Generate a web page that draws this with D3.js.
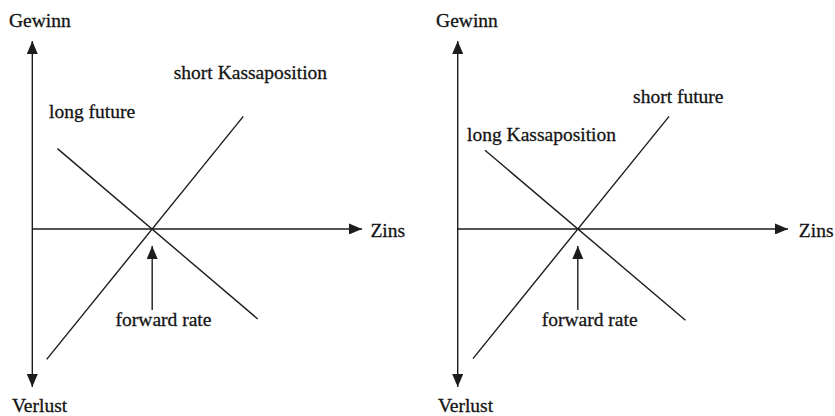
<!DOCTYPE html>
<html><head><meta charset="utf-8">
<script src="https://cdn.jsdelivr.net/npm/d3@7"></script>
<style>
html,body{margin:0;padding:0;background:#fff;}
text{font-family:"Liberation Serif","Times New Roman",serif;font-size:19.5px;fill:#141414;stroke:#141414;stroke-width:0.3px;}
</style></head>
<body><svg id="c" width="835" height="416"></svg>
<script>
// ---- data (abstract units: Zins on x, Gewinn/Verlust on y) ----
const axisXRange = [0, 27.5];          // Zins axis extent
const axisYRange = [-13.17, 15.67];    // Verlust .. Gewinn
const forwardRate = 10;                // crossing point on the Zins axis
const forwardArrowY = [-6.75, -1.42];  // foot and tip of the forward-rate arrow

const panelNames = ["left", "right"];
const risingX  = [[1.2, 17.6], [1.27, 17.6]];
const risingY  = [[-10.87, 9.39], [-10.8, 9.39]];
const fallingX = [[2.1, 18.8], [2.27, 18.96]];
const fallingY = [[6.7, -7.5], [6.57, -7.6]];

const axisLabels = ["Gewinn", "Verlust", "Zins"];
const axisLabelX = [[-1.94, -1.7, 28.2], [-1.8, -1.65, 28.4]];
const axisLabelY = [[16.8, -15.25, -0.63], [16.8, -15.25, -0.63]];

const lineLabels  = [["short Kassaposition", "long future", "forward rate"],
                     ["short future", "long Kassaposition", "forward rate"]];
const lineLabelX  = [[11.8, 1.4, 6.95], [14.6, 0.78, 7.0]];
const lineLabelY  = [[12.5, 9.25, -8.1], [10.5, 7.33, -8.1]];

// ---- drawing ----
const svg = d3.select("#c");
const ink = "#1c1c1c";
const defs = svg.append("defs");
defs.append("marker").attr("id", "ah")
  .attr("markerUnits", "userSpaceOnUse")
  .attr("viewBox", "0 0 13 11").attr("refX", 13).attr("refY", 5.5)
  .attr("markerWidth", 13).attr("markerHeight", 11).attr("orient", "auto-start-reverse")
  .append("path").attr("d", "M0,0 L13,5.5 L0,11 Z").attr("fill", ink);

const panelRanges = [[32.3, 362], [457.7, 788]];
const y = d3.scaleLinear().domain(axisYRange).range([387, 41]);

panelNames.forEach((name, i) => {
  const x = d3.scaleLinear().domain(axisXRange).range(panelRanges[i]);
  const g = svg.append("g").attr("class", "panel-" + name);
  const line = d3.line().x(d => x(d[0])).y(d => y(d[1]));

  // y axis (both ends arrowed)
  g.append("path").attr("d", line([[0, axisYRange[0]], [0, axisYRange[1]]]))
    .attr("stroke", ink).attr("stroke-width", 1.4).attr("fill", "none")
    .attr("marker-start", "url(#ah)").attr("marker-end", "url(#ah)");
  // x axis
  g.append("path").attr("d", line([[0, 0], [axisXRange[1], 0]]))
    .attr("stroke", ink).attr("stroke-width", 1.4).attr("fill", "none")
    .attr("marker-end", "url(#ah)");

  // payoff lines
  const segs = [d3.zip(risingX[i], risingY[i]), d3.zip(fallingX[i], fallingY[i])];
  g.selectAll("path.pay").data(segs).join("path").attr("class", "pay")
    .attr("d", line).attr("stroke", ink).attr("stroke-width", 1.4).attr("fill", "none");

  // forward rate arrow
  g.append("path").attr("d", line([[forwardRate, forwardArrowY[0]], [forwardRate, forwardArrowY[1]]]))
    .attr("stroke", ink).attr("stroke-width", 1.4).attr("fill", "none")
    .attr("marker-end", "url(#ah)");

  // axis labels
  g.selectAll("text.ax").data(axisLabels).join("text").attr("class", "ax")
    .attr("x", (d, j) => x(axisLabelX[i][j])).attr("y", (d, j) => y(axisLabelY[i][j]))
    .text(d => d);
  // line labels
  g.selectAll("text.ll").data(lineLabels[i]).join("text").attr("class", "ll")
    .attr("x", (d, j) => x(lineLabelX[i][j])).attr("y", (d, j) => y(lineLabelY[i][j]))
    .text(d => d);
});
</script></body></html>
